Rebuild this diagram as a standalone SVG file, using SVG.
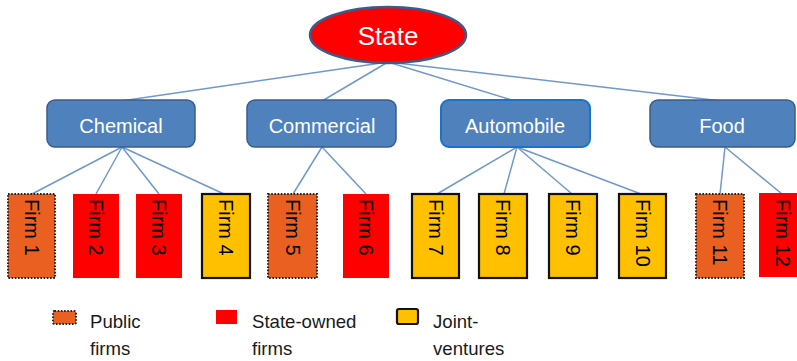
<svg xmlns="http://www.w3.org/2000/svg" width="797" height="361" viewBox="0 0 797 361">
  <style>
    .link { stroke: #6f98cf; stroke-width: 1.5; fill: none; }
    .sector rect { fill: #4f81bd; stroke: #385d8a; stroke-width: 1.5; }
    .sector text { fill: #ffffff; font-family: "Liberation Sans", Arial, sans-serif; font-size: 20px; text-anchor: middle; }
    .firm text { fill: #000000; font-family: "Liberation Sans", Arial, sans-serif; font-size: 20px; }
    .public { fill: #ea6020; stroke: #222222; stroke-width: 2; stroke-dasharray: 1.6 1.6; }
    .stateowned { fill: #ff0000; stroke: none; }
    .joint { fill: #ffc000; stroke: #111111; stroke-width: 2.2; }
    .legend text { fill: #1a1a1a; font-family: "Liberation Sans", Arial, sans-serif; font-size: 18.6px; }
  </style>

  <!-- connectors -->
  <g id="connectors">
    <line class="link" x1="388" y1="62" x2="121" y2="101"/>
    <line class="link" x1="388" y1="62" x2="322" y2="101"/>
    <line class="link" x1="388" y1="62" x2="515" y2="101"/>
    <line class="link" x1="388" y1="62" x2="722" y2="101"/>

    <line class="link" x1="122" y1="147" x2="32" y2="194"/>
    <line class="link" x1="122" y1="147" x2="96" y2="194"/>
    <line class="link" x1="122" y1="147" x2="159" y2="194"/>
    <line class="link" x1="122" y1="147" x2="224" y2="194"/>

    <line class="link" x1="322" y1="147" x2="293" y2="194"/>
    <line class="link" x1="322" y1="147" x2="366" y2="194"/>

    <line class="link" x1="517" y1="147" x2="437" y2="194"/>
    <line class="link" x1="517" y1="147" x2="504" y2="194"/>
    <line class="link" x1="517" y1="147" x2="572" y2="194"/>
    <line class="link" x1="517" y1="147" x2="641" y2="194"/>

    <line class="link" x1="725" y1="147" x2="720" y2="194"/>
    <line class="link" x1="725" y1="147" x2="782" y2="194"/>
  </g>

  <!-- root -->
  <g id="state">
    <ellipse cx="388" cy="35" rx="78" ry="28" fill="#ff0000" stroke="#385d8a" stroke-width="2.5"/>
    <text x="388" y="45" fill="#ffffff" font-family="Liberation Sans, Arial, sans-serif" font-size="26" text-anchor="middle">State</text>
  </g>

  <!-- sectors -->
  <g id="chemical" class="sector">
    <rect x="47" y="100" width="148" height="47" rx="8"/>
    <text x="121" y="133">Chemical</text>
  </g>
  <g id="commercial" class="sector">
    <rect x="247" y="100" width="149" height="47" rx="8"/>
    <text x="322" y="133">Commercial</text>
  </g>
  <g id="automobile" class="sector">
    <rect x="441" y="100" width="149" height="47" rx="8" style="stroke:#1a73c8;stroke-width:2"/>
    <text x="515" y="133">Automobile</text>
  </g>
  <g id="food" class="sector">
    <rect x="650" y="100" width="145" height="47" rx="8"/>
    <text x="722" y="133">Food</text>
  </g>

  <!-- firms -->
  <g id="firm1" class="firm">
    <rect class="public" x="8" y="194" width="47" height="84"/>
    <text transform="translate(24.5,199) rotate(90)">Firm 1</text>
  </g>
  <g id="firm2" class="firm">
    <rect class="stateowned" x="73" y="194" width="46" height="84"/>
    <text transform="translate(89,199) rotate(90)">Firm 2</text>
  </g>
  <g id="firm3" class="firm">
    <rect class="stateowned" x="136" y="194" width="46" height="84"/>
    <text transform="translate(152,199) rotate(90)">Firm 3</text>
  </g>
  <g id="firm4" class="firm">
    <rect class="joint" x="202" y="194" width="48" height="84"/>
    <text transform="translate(219,199) rotate(90)">Firm 4</text>
  </g>
  <g id="firm5" class="firm">
    <rect class="public" x="268" y="194" width="49" height="84"/>
    <text transform="translate(285.5,199) rotate(90)">Firm 5</text>
  </g>
  <g id="firm6" class="firm">
    <rect class="stateowned" x="343" y="194" width="46" height="84"/>
    <text transform="translate(359,199) rotate(90)">Firm 6</text>
  </g>
  <g id="firm7" class="firm">
    <rect class="joint" x="412" y="194" width="47" height="84"/>
    <text transform="translate(428.5,199) rotate(90)">Firm 7</text>
  </g>
  <g id="firm8" class="firm">
    <rect class="joint" x="479" y="194" width="48" height="84"/>
    <text transform="translate(496,199) rotate(90)">Firm 8</text>
  </g>
  <g id="firm9" class="firm">
    <rect class="joint" x="549" y="194" width="48" height="84"/>
    <text transform="translate(566,199) rotate(90)">Firm 9</text>
  </g>
  <g id="firm10" class="firm">
    <rect class="joint" x="619" y="194" width="47" height="84"/>
    <text transform="translate(635.5,199) rotate(90)">Firm 10</text>
  </g>
  <g id="firm11" class="firm">
    <rect class="public" x="696" y="194" width="48" height="84"/>
    <text transform="translate(713,199) rotate(90)">Firm 11</text>
  </g>
  <g id="firm12" class="firm">
    <rect class="stateowned" x="759" y="193" width="48" height="84"/>
    <text transform="translate(776,199) rotate(90)">Firm 12</text>
  </g>

  <!-- legend -->
  <g id="legend" class="legend">
    <rect class="public" x="53" y="311" width="23" height="13" rx="1.5"/>
    <text x="90" y="328">Public</text>
    <text x="90" y="355">firms</text>
    <rect class="stateowned" x="216" y="310" width="21" height="14"/>
    <text x="252" y="328">State-owned</text>
    <text x="252" y="355">firms</text>
    <rect class="joint" x="397" y="309" width="21" height="15" rx="2"/>
    <text x="433" y="328">Joint-</text>
    <text x="433" y="355">ventures</text>
  </g>
</svg>
